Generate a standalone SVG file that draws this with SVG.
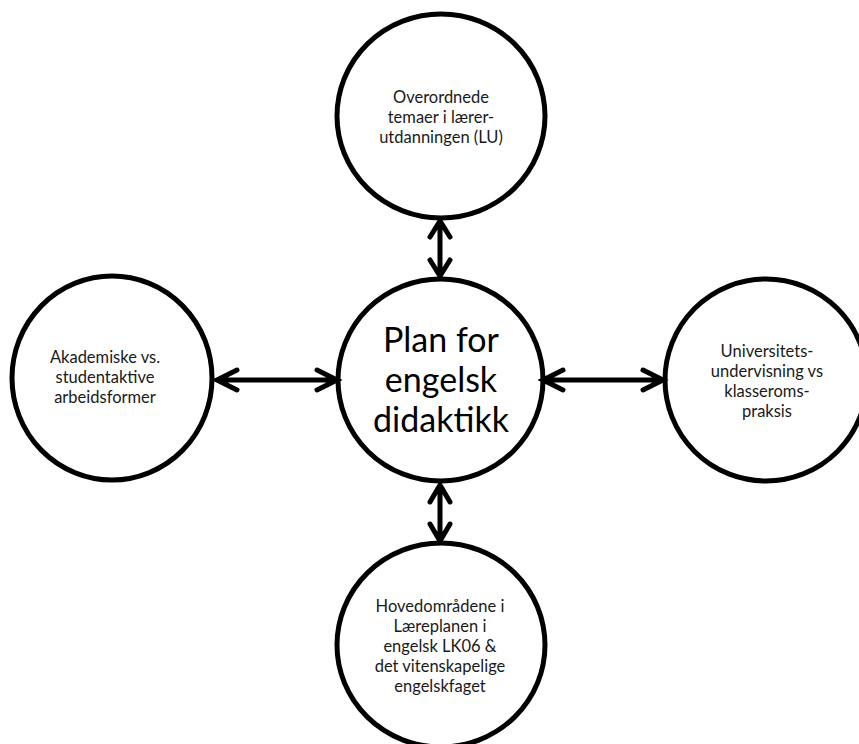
<svg xmlns="http://www.w3.org/2000/svg" width="859" height="744" viewBox="0 0 859 744">
<style>
.node ellipse{fill:#fff;stroke:#000;stroke-width:5}
.lbl{font-family:Lato,"Open Sans","Liberation Sans",sans-serif;font-size:16.5px;fill:#1a1a1a;text-anchor:middle}
.big{font-family:Lato,"Open Sans","Liberation Sans",sans-serif;font-size:34px;fill:#000;text-anchor:middle}
.conn path{fill:none;stroke:#000;stroke-width:5;stroke-linecap:round;stroke-linejoin:miter}
</style>
<rect width="859" height="744" fill="#fff"/>
<g id="n-top" class="node">
<ellipse cx="441" cy="116" rx="104" ry="102"/>
<text class="lbl"><tspan x="441" y="103">Overordnede</tspan><tspan x="441" y="123">temaer i lærer-</tspan><tspan x="441" y="143">utdanningen (LU)</tspan></text>
</g>
<g id="n-center" class="node">
<ellipse cx="440.5" cy="380" rx="102.5" ry="101"/>
<text class="big"><tspan x="441" y="352">Plan for</tspan><tspan x="441" y="392">engelsk</tspan><tspan x="441" y="432">didaktikk</tspan></text>
</g>
<g id="n-left" class="node">
<ellipse cx="112" cy="378" rx="100" ry="102"/>
<text class="lbl"><tspan x="105" y="363">Akademiske vs.</tspan><tspan x="105" y="383">studentaktive</tspan><tspan x="105" y="403">arbeidsformer</tspan></text>
</g>
<g id="n-right" class="node">
<ellipse cx="766" cy="380" rx="101" ry="101"/>
<text class="lbl"><tspan x="767" y="357">Universitets-</tspan><tspan x="767" y="377">undervisning vs</tspan><tspan x="767" y="397">klasseroms-</tspan><tspan x="767" y="417">praksis</tspan></text>
</g>
<g id="n-bottom" class="node">
<ellipse cx="441" cy="645" rx="104" ry="102"/>
<text class="lbl"><tspan x="440" y="612">Hovedområdene i</tspan><tspan x="440" y="632">Læreplanen i</tspan><tspan x="440" y="652">engelsk LK06 &amp;</tspan><tspan x="440" y="672">det vitenskapelige</tspan><tspan x="440" y="692">engelskfaget</tspan></text>
</g>
<g id="connectors" class="conn">
<path d="M440 221V276M430 237L440 221L450 237M430 260L440 276L450 260"/>
<path d="M440 485V541M430 502L440 485L450 502M430 524L440 541L450 524"/>
<path d="M217 380H337M237 370L217 380L237 390M317 370L337 380L317 390"/>
<path d="M543 380H663M563 370L543 380L563 390M643 370L663 380L643 390"/>
</g>
</svg>
